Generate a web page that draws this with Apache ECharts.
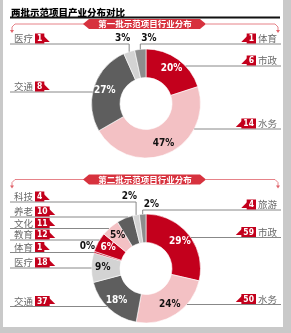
<!DOCTYPE html>
<html><head><meta charset="utf-8">
<style>html,body{margin:0;padding:0;background:#fff}#c{width:291px;height:333px}</style>
<script src="https://cdn.jsdelivr.net/npm/echarts@6/dist/echarts.min.js"></script>
</head><body><div id="c"></div>
<script>
// ---- data ----
const titleText = '两批示范项目产业分布对比';
const subtitle1 = '第一批示范项目行业分布';
const subtitle2 = '第二批示范项目行业分布';
const names1 = ['市政', '水务', '交通', '医疗', '体育'];
const values1 = [6, 14, 8, 1, 1];
const names2 = ['市政', '水务', '交通', '医疗', '体育', '教育', '文化', '养老', '科技', '旅游'];
const values2 = [59, 50, 37, 18, 1, 12, 11, 10, 4, 4];

// ---- layout / style (kept apart from data) ----
const sides1 = ['right', 'right', 'left', 'left', 'right'];
const sides2 = ['right', 'right', 'left', 'left', 'left', 'left', 'left', 'left', 'left', 'right'];
const labelY1 = [66, 129, 92, 44, 44];
const labelY2 = [237.5, 304.5, 306.5, 268, 252.5, 240, 228.5, 217, 202, 210];
const PAL = { red: '#c3001c', pink: '#f3c1c4', dark: '#5e5e5e', light: '#d3d3d3', mid: '#8d8d8d' };
const TXT = { red: '#fff', pink: '#111', dark: '#fff', light: '#111', mid: '#111' };
const colors1 = ['red', 'pink', 'dark', 'light', 'mid'];
const colors2 = ['red', 'pink', 'dark', 'light', 'red', 'red', 'pink', 'dark', 'light', 'mid'];
const C1 = [146, 103.5], C2 = [146, 268.5];
const R_OUT = 54.5, R_IN = 26, X_L = 10, X_R = 281;
const NUM_FONT = '"Liberation Sans Narrow","DejaVu Sans Condensed",sans-serif';
const CJK = '"Noto Sans CJK SC",sans-serif';

function sliceAngles(vals) {
  const t = vals.reduce((a, b) => a + b, 0); let acc = 0;
  return vals.map(v => { const a0 = acc / t * 360; acc += v; return [a0, acc / t * 360]; });
}
function guide(vals, i, y, c, side) {
  const [a0, a1] = sliceAngles(vals)[i];
  const ex = side === 'left' ? X_L : X_R;
  const dy = c[1] - y;
  if (Math.abs(dy) < R_OUT) {
    const dx = Math.sqrt(R_OUT * R_OUT - dy * dy);
    const x = side === 'left' ? c[0] - dx : c[0] + dx;
    let th = Math.atan2(x - c[0], c[1] - y) * 180 / Math.PI; if (th < 0) th += 360;
    if (th >= a0 && th <= a1) return { bend: [x, y], pts: [[x, y], [ex, y]] };
  }
  const m = (a0 + a1) / 2 * Math.PI / 180;
  const px = c[0] + R_OUT * Math.sin(m), py = c[1] - R_OUT * Math.cos(m);
  return { bend: [px, y], pts: [[px, py], [px, y], [ex, y]] };
}

function build(names, vals, cols, sides, ys, c) {
  const total = vals.reduce((a, b) => a + b, 0);
  const base = { type: 'pie', center: c, radius: [R_IN, R_OUT], startAngle: 90, clockwise: true,
    silent: true, animation: false, avoidLabelOverlap: false, emphasis: { disabled: true } };
  const main = Object.assign({}, base, {
    percentPrecision: 0,
    itemStyle: { borderColor: '#fff', borderWidth: 0.6 },
    label: { show: true, position: 'inside', fontFamily: NUM_FONT, fontWeight: 'bold', fontSize: 10,
      formatter: p => vals[p.dataIndex] / total >= 0.04 ? p.percent + '%' : '' },
    labelLine: { show: false },
    data: names.map((n, i) => ({ name: n, value: vals[i], itemStyle: { color: PAL[cols[i]] }, label: { color: TXT[cols[i]] } }))
  });
  const tags = Object.assign({}, base, {
    z: 3,
    itemStyle: { color: 'rgba(0,0,0,0)' },
    label: { show: true, position: 'outside',
      formatter: p => sides[p.dataIndex] === 'left'
        ? '{n|' + p.name + '}{t|' + vals[p.dataIndex] + '}{sl|◣}'
        : '{sr|◢}{t|' + vals[p.dataIndex] + '}{n|' + p.name + '}',
      rich: {
        n: { color: '#6a6a6a', fontSize: 9.5, fontFamily: CJK, padding: [0, 2, 0, 2], lineHeight: 10 },
        t: { color: '#fff', backgroundColor: PAL.red, fontSize: 8.5, fontWeight: 'bold', fontFamily: NUM_FONT, padding: [1, 2, 0, 2], lineHeight: 8.5 },
        sl: { color: PAL.red, fontSize: 8.5, fontFamily: '"DejaVu Sans"', lineHeight: 8.5, padding: [0, 0, 0, -1] },
        sr: { color: PAL.red, fontSize: 8.5, fontFamily: '"DejaVu Sans"', lineHeight: 8.5, padding: [0, -1, 0, 0] }
      } },
    labelLine: { show: true, length: 4, length2: 4, lineStyle: { color: '#7a7a7a', width: 0.9 } },
    labelLayout: p => {
      const i = p.dataIndex, left = sides[i] === 'left';
      const g = guide(vals, i, ys[i], c, sides[i]);
      return { x: left ? X_L + 2 : X_R - 2, y: ys[i] - 0.5, align: left ? 'left' : 'right', verticalAlign: 'bottom', labelLinePoints: g.pts };
    },
    data: names.map((n, i) => ({ name: n, value: vals[i] }))
  });
  const small = Object.assign({}, base, {
    z: 3,
    percentPrecision: 0,
    itemStyle: { color: 'rgba(0,0,0,0)' },
    label: { show: true, position: 'outside', color: '#111', fontFamily: NUM_FONT, fontWeight: 'bold', fontSize: 10,
      formatter: p => vals[p.dataIndex] / total < 0.04 ? p.percent + '%' : '' },
    labelLine: { show: false },
    labelLayout: p => {
      const i = p.dataIndex, left = sides[i] === 'left';
      const g = guide(vals, i, ys[i], c, sides[i]);
      return { x: g.bend[0] + 1, y: ys[i] - 1, align: left ? 'right' : 'left', verticalAlign: 'bottom' };
    },
    data: names.map((n, i) => ({ name: n, value: vals[i] }))
  });
  return [main, tags, small];
}

function banner(cy, text) {
  const lc = '#e0636b';
  return [
    { type: 'polyline', shape: { points: [[84, cy], [15, cy], [12, cy + 3], [12, cy + 7]] }, style: { stroke: lc, lineWidth: 0.8, fill: null } },
    { type: 'polygon', shape: { points: [[10, cy + 6], [14, cy + 6], [12, cy + 9]] }, style: { fill: lc } },
    { type: 'polyline', shape: { points: [[206, cy], [275, cy], [278, cy + 3], [278, cy + 7]] }, style: { stroke: lc, lineWidth: 0.8, fill: null } },
    { type: 'polygon', shape: { points: [[276, cy + 6], [280, cy + 6], [278, cy + 9]] }, style: { fill: lc } },
    { type: 'polygon', shape: { points: [[83, cy], [89, cy - 5], [200, cy - 5], [206, cy], [200, cy + 5], [89, cy + 5]] }, style: { fill: '#d7323e' } },
    { type: 'text', x: 145, y: cy, style: { text: text, fill: '#fff', font: 'bold 8.5px "Noto Sans CJK SC"', align: 'center', verticalAlign: 'middle' } }
  ];
}

const chart = echarts.init(document.getElementById('c'), null, { renderer: 'canvas' });
chart.setOption({
  backgroundColor: '#fff',
  animation: false,
  graphic: [
    { type: 'rect', shape: { x: 0, y: 0, width: 3, height: 333 }, style: { fill: '#c9c9c9' } },
    { type: 'rect', shape: { x: 283, y: 0, width: 8, height: 333 }, style: { fill: '#c9c9c9' } },
    { type: 'rect', shape: { x: 0, y: 327, width: 291, height: 6 }, style: { fill: '#c9c9c9' } },
    { type: 'text', x: 11, y: 12.5, style: { text: titleText, fill: '#000', font: '900 9.5px "Noto Sans CJK SC"', verticalAlign: 'middle' } },
    { type: 'rect', shape: { x: 10, y: 16.5, width: 270, height: 2 }, style: { fill: '#111' } }
  ].concat(banner(24, subtitle1), banner(179.5, subtitle2)),
  series: build(names1, values1, colors1, sides1, labelY1, C1).concat(build(names2, values2, colors2, sides2, labelY2, C2))
});
</script></body></html>
